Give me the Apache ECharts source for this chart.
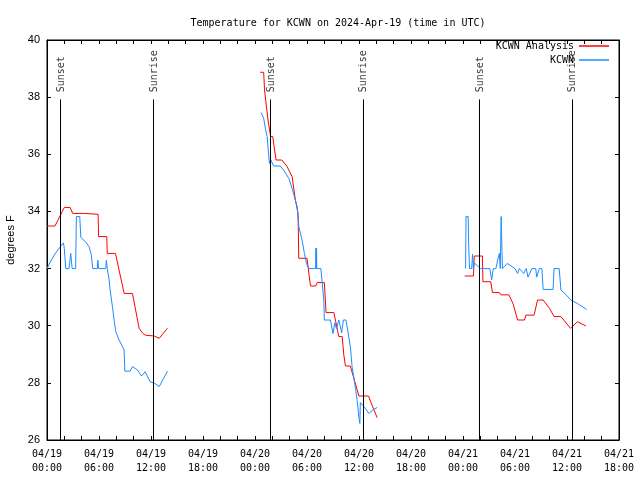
<!DOCTYPE html>
<html>
<head>
<meta charset="utf-8">
<script src="https://cdn.jsdelivr.net/npm/echarts@6/dist/echarts.min.js"></script>
<style>html,body{margin:0;padding:0;background:#fff}#c{width:640px;height:480px}</style>
</head>
<body>
<div id="c"></div>
<script>
// time in hours since 04/19 00:00 UTC
const titleText = 'Temperature for KCWN on 2024-Apr-19 (time in UTC)';
const xTickHours = [0, 6, 12, 18, 24, 30, 36, 42, 48, 54, 60, 66];
const xTickLabels = ['04/19\n00:00','04/19\n06:00','04/19\n12:00','04/19\n18:00','04/20\n00:00','04/20\n06:00','04/20\n12:00','04/20\n18:00','04/21\n00:00','04/21\n06:00','04/21\n12:00','04/21\n18:00'];
const yTicks = [26, 28, 30, 32, 34, 36, 38, 40];

const sunTimes = [1.5, 12.29, 25.74, 36.45, 49.85, 60.56];
const sunLabels = ['Sunset', 'Sunrise', 'Sunset', 'Sunrise', 'Sunset', 'Sunrise'];
const sunLineTop = 37.92;
const sunLabelBase = 38.15;

const analysisSeg1 = [[0,33.49],[0.92,33.49],[2.0,34.14],[2.66,34.14],[2.97,33.93],[4.35,33.93],[5.9,33.9],[5.95,33.12],[6.9,33.12],[6.95,32.53],[7.9,32.53],[8.9,31.13],[9.86,31.13],[10.63,29.91],[11.0,29.75],[11.33,29.67],[12.37,29.64],[12.95,29.56],[13.9,29.91]];
const analysisSeg2 = [[24.6,38.87],[25.0,38.87],[25.1,38.25],[25.5,37.2],[25.8,36.62],[26.05,36.62],[26.2,36.27],[26.43,35.8],[27.1,35.8],[27.7,35.57],[28.28,35.22],[28.66,34.4],[28.97,33.93],[29.05,32.36],[30.0,32.36],[30.4,31.39],[31.0,31.39],[31.17,31.51],[32.0,31.51],[32.2,30.46],[33.1,30.46],[33.67,29.62],[34.06,29.62],[34.25,28.97],[34.44,28.59],[35.0,28.59],[35.99,27.54],[37.1,27.54],[37.5,27.22],[38.1,26.78]];
const analysisSeg3 = [[48.2,31.74],[49.2,31.74],[49.3,32.44],[50.24,32.44],[50.3,31.54],[51.2,31.54],[51.4,31.16],[52.2,31.16],[52.36,31.08],[53.3,31.08],[53.8,30.75],[54.3,30.2],[55.1,30.2],[55.25,30.37],[56.2,30.37],[56.6,30.9],[57.25,30.9],[58.0,30.6],[58.5,30.32],[59.3,30.32],[60.4,29.91],[61.2,30.14],[62.2,29.99]];

const obsSeg1 = [[0,32.0],[0.5,32.3],[1.0,32.55],[1.5,32.75],[1.89,32.9],[2.0,32.7],[2.16,32.0],[2.54,32.0],[2.74,32.53],[2.9,32.0],[3.3,32.0],[3.39,33.82],[3.78,33.82],[3.9,33.09],[4.4,32.95],[4.85,32.77],[5.1,32.5],[5.28,32.0],[5.8,32.0],[5.87,32.29],[5.95,32.0],[6.78,32.0],[6.85,32.29],[6.95,32.0],[7.17,31.6],[7.28,31.25],[7.55,30.67],[7.74,30.2],[7.94,29.79],[8.32,29.5],[8.9,29.15],[8.98,28.41],[9.6,28.41],[9.86,28.57],[10.44,28.45],[10.9,28.24],[11.33,28.39],[11.9,28.04],[12.45,27.98],[12.95,27.87],[13.9,28.41]];
const obsSeg2 = [[24.7,37.46],[25.0,37.26],[25.2,36.9],[25.4,36.62],[25.66,35.68],[25.8,35.82],[26.15,35.59],[26.9,35.59],[27.3,35.45],[27.9,35.16],[28.28,34.81],[28.86,34.17],[29.05,33.47],[29.43,33.0],[29.7,32.53],[29.94,32.18],[30.2,32.0],[31.0,32.0],[31.03,32.71],[31.07,32.0],[31.1,32.71],[31.13,32.0],[31.6,32.0],[31.94,30.9],[32.0,30.2],[32.7,30.2],[33.0,29.73],[33.2,30.1],[33.4,29.9],[33.67,30.2],[34.0,29.75],[34.2,30.2],[34.5,30.2],[35.0,29.27],[35.2,28.57],[35.6,27.81],[35.8,27.34],[36.0,26.76],[36.1,26.58],[36.15,27.31],[36.57,27.17],[37.14,26.93],[37.6,27.05],[38.1,27.14]];
const obsSeg3 = [[48.3,32.0],[48.35,33.82],[48.6,33.82],[48.65,32.88],[48.75,32.0],[49.0,32.0],[49.1,32.5],[49.2,32.0],[49.3,32.2],[50.0,32.0],[51.1,32.0],[51.3,31.6],[51.5,32.0],[51.8,32.0],[52.0,32.3],[52.2,32.53],[52.3,32.0],[52.4,33.82],[52.5,32.6],[52.55,32.0],[52.7,32.0],[53.1,32.18],[54.0,32.0],[54.3,31.83],[54.5,32.0],[55.0,31.83],[55.3,32.0],[55.5,31.7],[55.95,32.0],[56.4,32.0],[56.5,31.7],[56.8,32.0],[57.1,32.0],[57.25,31.27],[58.4,31.27],[58.5,32.0],[59.1,32.0],[59.3,31.25],[59.9,31.08],[60.45,30.9],[61.2,30.78],[62.25,30.57]];

const RED = '#ff0000';
const BLUE = '#1e8cff';
const MONO = '"DejaVu Sans Mono", "Liberation Mono", monospace';
const SANS = '"Liberation Sans", "DejaVu Sans", sans-serif';

function lineSeries(name, data, color) {
  return {
    name: name, type: 'line', data: data, color: color,
    symbol: 'none', showSymbol: false, animation: false,
    lineStyle: { color: color, width: 1 }, z: 3
  };
}

const series = [
  lineSeries('KCWN Analysis', analysisSeg1, RED),
  lineSeries('KCWN Analysis', analysisSeg2, RED),
  lineSeries('KCWN Analysis', analysisSeg3, RED),
  lineSeries('KCWN', obsSeg1, BLUE),
  lineSeries('KCWN', obsSeg2, BLUE),
  lineSeries('KCWN', obsSeg3, BLUE),
  {
    type: 'line', data: [], animation: false, silent: true,
    markLine: {
      silent: true, symbol: 'none', animation: false,
      lineStyle: { color: '#000', width: 1, type: 'solid' },
      label: { show: false },
      data: sunTimes.map(t => [{ coord: [t, 26] }, { coord: [t, sunLineTop] }])
    }
  },
  {
    type: 'scatter', animation: false, silent: true,
    symbolSize: 1, itemStyle: { color: 'rgba(0,0,0,0)' },
    data: sunTimes.map((t, i) => ({ value: [t, sunLabelBase], name: sunLabels[i] })),
    label: {
      show: true, position: [1.5, 0], rotate: 90, align: 'left', verticalAlign: 'middle',
      formatter: p => p.name, fontFamily: MONO, fontSize: 10, color: '#000'
    },
    labelLayout: { hideOverlap: false }
  }
];

const chart = echarts.init(document.getElementById('c'), null, { renderer: 'canvas' });
const tickCommon = { show: true, inside: true, length: 4, lineStyle: { color: '#000' } };
chart.setOption({
  backgroundColor: '#fff',
  animation: false,
  title: {
    text: titleText, left: 333, top: 13, textAlign: 'center',
    textStyle: { fontFamily: MONO, fontSize: 10, fontWeight: 'normal', color: '#000' }
  },
  legend: [
    { data: ['KCWN Analysis'], right: 31, top: 41, orient: 'vertical', align: 'right', padding: 0,
      icon: 'rect', itemWidth: 30, itemHeight: 1.5, selectedMode: false,
      textStyle: { fontFamily: MONO, fontSize: 10, color: '#000' } },
    { data: ['KCWN'], right: 31, top: 55, orient: 'vertical', align: 'right', padding: 0,
      icon: 'rect', itemWidth: 30, itemHeight: 1.5, selectedMode: false,
      textStyle: { fontFamily: MONO, fontSize: 10, color: '#000' } }
  ],
  grid: { left: 47, right: 21, top: 40, bottom: 40, show: true, borderColor: '#000', borderWidth: 1,
    containLabel: false, outerBoundsMode: 'none' },
  xAxis: [
    { type: 'value', min: xTickHours[0], max: xTickHours[xTickHours.length - 1], interval: 2,
      axisLine: { show: true, onZero: false, lineStyle: { color: '#000', width: 1 } },
      axisTick: tickCommon,
      splitLine: { show: false },
      axisLabel: { margin: 7, fontFamily: MONO, fontSize: 10, color: '#000', lineHeight: 14,
        showMinLabel: true, showMaxLabel: true, hideOverlap: false,
        formatter: v => { const i = xTickHours.indexOf(v); return i >= 0 ? xTickLabels[i] : ''; } } },
    { type: 'value', position: 'top', min: xTickHours[0], max: xTickHours[xTickHours.length - 1], interval: 2,
      axisLine: { show: true, onZero: false, lineStyle: { color: '#000', width: 1 } },
      axisTick: tickCommon,
      splitLine: { show: false }, axisLabel: { show: false } }
  ],
  yAxis: [
    { type: 'value', min: yTicks[0], max: yTicks[yTicks.length - 1], interval: 2,
      name: 'degrees F', nameLocation: 'middle', nameGap: 31, nameRotate: 90,
      nameTextStyle: { fontFamily: SANS, fontSize: 11, color: '#000' },
      axisLine: { show: true, onZero: false, lineStyle: { color: '#000', width: 1 } },
      axisTick: tickCommon,
      splitLine: { show: false },
      axisLabel: { margin: 7, fontFamily: SANS, fontSize: 11, color: '#000' } },
    { type: 'value', position: 'right', min: yTicks[0], max: yTicks[yTicks.length - 1], interval: 2,
      axisLine: { show: true, onZero: false, lineStyle: { color: '#000', width: 1 } },
      axisTick: tickCommon,
      splitLine: { show: false }, axisLabel: { show: false } }
  ],
  series: series
});
</script>
</body>
</html>
